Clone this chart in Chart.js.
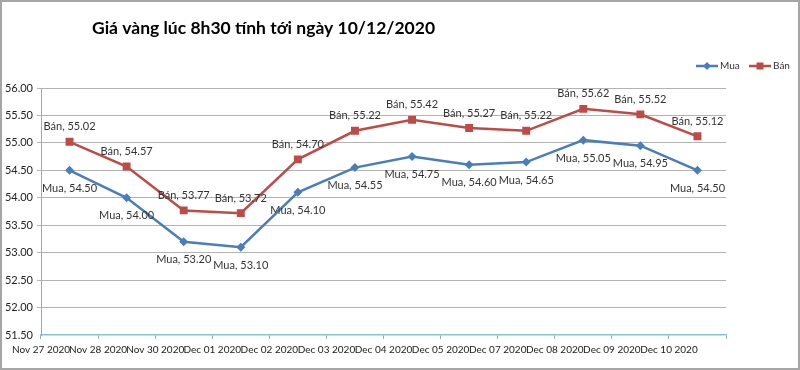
<!DOCTYPE html>
<html>
<head>
<meta charset="utf-8">
<script src="https://cdn.jsdelivr.net/npm/chart.js@4.4.0/dist/chart.umd.min.js"></script>
<style>
  html, body { margin: 0; padding: 0; background: #fff; }
  #wrap { width: 800px; height: 370px; position: relative; }
</style>
</head>
<body>
<div id="wrap"><canvas id="giaVangChart" width="800" height="370"></canvas></div>
<script>
// dates (category axis)
const ngay = ['Nov 27 2020', 'Nov 28 2020', 'Nov 30 2020', 'Dec 01 2020', 'Dec 02 2020', 'Dec 03 2020',
              'Dec 04 2020', 'Dec 05 2020', 'Dec 07 2020', 'Dec 08 2020', 'Dec 09 2020', 'Dec 10 2020'];
// buy price
const giaMua = [54.50, 54.00, 53.20, 53.10, 54.10, 54.55, 54.75, 54.60, 54.65, 55.05, 54.95, 54.50];
// sell price
const giaBan = [55.02, 54.57, 53.77, 53.72, 54.70, 55.22, 55.42, 55.27, 55.22, 55.62, 55.52, 55.12];

const tieuDe = 'Giá vàng lúc 8h30 tính tới ngày 10/12/2020';
const FONT = 'Lato, "Open Sans", sans-serif';

const BLUE = '#4a7ebb';
const RED = '#be4b48';

// ========= title, legend, value labels, frame =========
const trangTri = {
    id: 'trangTri',
    afterDatasetsDraw(chart) {
        const ctx = chart.ctx;
        ctx.save();
        ctx.font = '11px ' + FONT;
        ctx.fillStyle = '#333';
        ctx.textAlign = 'center';
        ctx.textBaseline = 'middle';
        chart.data.datasets.forEach((ds, i) => {
            const meta = chart.getDatasetMeta(i);
            meta.data.forEach((pt, j) => {
                const dy = ds.label === 'Bán' ? -15 : 18;
                ctx.fillText(ds.label + ', ' + ds.data[j].toFixed(2), pt.x, pt.y + dy);
            });
        });
        ctx.restore();
    },
    afterDraw(chart) {
        const ctx = chart.ctx;
        ctx.save();
        // title
        ctx.font = 'bold 17.5px ' + FONT;
        ctx.fillStyle = '#000';
        ctx.textAlign = 'left';
        ctx.textBaseline = 'middle';
        ctx.fillText(tieuDe, 92, 28);

        // legend
        const items = [
            { text: 'Mua', color: BLUE, x: 696, shape: 'diamond' },
            { text: 'Bán', color: RED, x: 749, shape: 'square' }
        ];
        const ly = 66;
        ctx.font = '10px ' + FONT;
        items.forEach(it => {
            ctx.strokeStyle = it.color;
            ctx.fillStyle = it.color;
            ctx.lineWidth = 2.5;
            ctx.beginPath();
            ctx.moveTo(it.x, ly);
            ctx.lineTo(it.x + 22, ly);
            ctx.stroke();
            const cx = it.x + 11;
            ctx.beginPath();
            if (it.shape === 'diamond') {
                ctx.moveTo(cx, ly - 4); ctx.lineTo(cx + 4, ly); ctx.lineTo(cx, ly + 4); ctx.lineTo(cx - 4, ly);
            } else {
                ctx.rect(cx - 3.5, ly - 3.5, 7, 7);
            }
            ctx.closePath();
            ctx.fill();
            ctx.fillStyle = '#333';
            ctx.fillText(it.text, it.x + 24, ly);
        });

        // outer frame
        ctx.strokeStyle = '#a6a6a6';
        ctx.lineWidth = 2;
        ctx.strokeRect(1, 1, 798, 368);
        ctx.restore();
    }
};

new Chart(document.getElementById('giaVangChart'), {
    type: 'line',
    data: {
        labels: ngay,
        datasets: [
            {
                label: 'Mua',
                data: giaMua,
                borderColor: BLUE,
                backgroundColor: BLUE,
                borderWidth: 2.5,
                pointStyle: 'rectRot',
                pointRadius: 4.5,
                pointBorderWidth: 0,
                tension: 0
            },
            {
                label: 'Bán',
                data: giaBan,
                borderColor: RED,
                backgroundColor: RED,
                borderWidth: 2.5,
                pointStyle: 'rect',
                pointRadius: 5.6,
                pointBorderWidth: 0,
                tension: 0
            }
        ]
    },
    options: {
        responsive: false,
        animation: false,
        devicePixelRatio: 1,
        layout: { padding: { top: 88, right: 74, bottom: 0, left: 0 } },
        plugins: {
            legend: { display: false },
            title: { display: false },
            tooltip: { enabled: false }
        },
        scales: {
            x: {
                offset: true,
                grid: {
                    offset: true,
                    drawOnChartArea: false,
                    drawTicks: true,
                    tickLength: 4,
                    color: '#a6a6a6'
                },
                border: { display: true, color: '#86c5c9', width: 1.5 },
                ticks: {
                    autoSkip: false,
                    maxRotation: 0,
                    minRotation: 0,
                    labelOffset: -28.5,
                    padding: 5,
                    color: '#222',
                    font: { family: FONT, size: 10 }
                },
                afterFit: s => { s.height = 35; }
            },
            y: {
                min: 51.5,
                max: 56,
                ticks: {
                    stepSize: 0.5,
                    padding: 4,
                    color: '#222',
                    font: { family: FONT, size: 11 },
                    callback: v => Number(v).toFixed(2)
                },
                grid: {
                    color: c => (c.tick && c.tick.value === 51.5) ? 'rgba(0,0,0,0)' : '#b3b3b3',
                    tickLength: 4,
                    lineWidth: 1
                },
                border: { display: true, color: '#a6a6a6' },
                afterFit: s => { s.width = 41; }
            }
        }
    },
    plugins: [trangTri]
});
</script>
</body>
</html>
